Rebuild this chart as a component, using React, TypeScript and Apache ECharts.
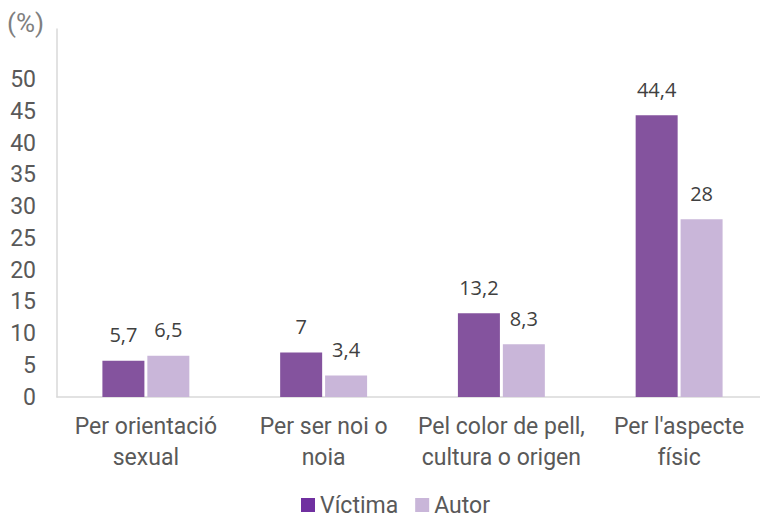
import React, { useEffect, useRef } from "react";
import * as echarts from "echarts";

const categories = [
  "Per orientació\nsexual",
  "Per ser noi o\nnoia",
  "Pel color de pell,\ncultura o origen",
  "Per l'aspecte\nfísic",
];
const victima = [5.7, 7, 13.2, 44.4];
const autor = [6.5, 3.4, 8.3, 28];

export default function App() {
  const ref = useRef<HTMLDivElement>(null);
  useEffect(() => {
    const chart = echarts.init(ref.current!, undefined, { renderer: "svg" });
    const fmt = (p: any) => String(p.value).replace(".", ",");
    const lbl = {
      show: true,
      position: "top",
      distance: 16,
      fontSize: 20,
      color: "#404040",
      fontFamily: "Open Sans",
      formatter: fmt,
    };
    chart.setOption({
      animation: false,
      textStyle: { fontFamily: "Roboto" },
      grid: {
        left: 57,
        width: 711,
        top: 29,
        bottom: 120,
        outerBoundsMode: "none",
        containLabel: false,
      },
      graphic: [
        {
          type: "text",
          left: 7,
          top: 10,
          style: { text: "(%)", font: "26px Roboto", fill: "#7f7f7f" },
        },
      ],
      legend: {
        bottom: 0,
        left: 296,
        padding: [0, 5, 0, 5],
        itemWidth: 14,
        itemHeight: 14,
        itemGap: 17,
        textStyle: {
          fontSize: 23,
          lineHeight: 24,
          color: "#595959",
          fontFamily: "Roboto",
        },
        data: [
          { name: "Víctima", icon: "rect", itemStyle: { color: "#7030a0" } },
          { name: "Autor", icon: "rect" },
        ],
      },
      xAxis: {
        type: "category",
        data: categories,
        axisLine: { lineStyle: { color: "#d9d9d9", width: 1.5 } },
        axisTick: { show: false },
        axisLabel: {
          fontSize: 23,
          color: "#595959",
          lineHeight: 31,
          margin: 14,
          interval: 0,
        },
      },
      yAxis: {
        type: "value",
        min: 0,
        max: 58,
        interval: 5,
        splitLine: { show: false },
        axisLine: { show: true, lineStyle: { color: "#d9d9d9", width: 1.5 } },
        axisTick: { show: false },
        axisLabel: {
          fontSize: 23,
          color: "#595959",
          margin: 21,
          showMaxLabel: false,
          formatter: (v: number) => (v <= 50 ? String(v) : ""),
        },
      },
      series: [
        {
          name: "Víctima",
          type: "bar",
          data: victima,
          barWidth: 42,
          barGap: "7%",
          itemStyle: { color: "#84539e" },
          label: lbl,
        },
        {
          name: "Autor",
          type: "bar",
          data: autor,
          barWidth: 42,
          itemStyle: { color: "#c9b6d9" },
          label: lbl,
        },
      ],
    });
    return () => chart.dispose();
  }, []);
  return (
    <div
      ref={ref}
      style={{ width: 760, height: 517, position: "absolute", left: 0, top: 0 }}
    />
  );
}
